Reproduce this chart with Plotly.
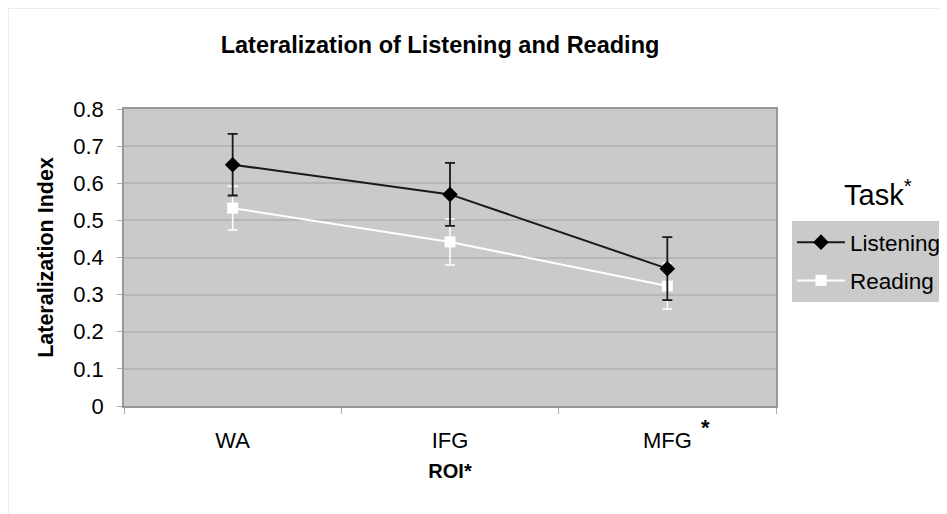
import plotly.graph_objects as go

categories = ["WA", "IFG", "MFG"]
listening = [0.65, 0.57, 0.37]
listening_err = [0.083, 0.085, 0.085]
reading = [0.533, 0.442, 0.323]
reading_err = [0.059, 0.062, 0.062]
y_ticks = [0, 0.1, 0.2, 0.3, 0.4, 0.5, 0.6, 0.7, 0.8]
y_ticklabels = ["0", "0.1", "0.2", "0.3", "0.4", "0.5", "0.6", "0.7", "0.8"]

FONT = "Liberation Sans, Arial, sans-serif"

# figure is drawn at an 8px page offset; plot area in figure pixels
W, H = 939, 506
L, T, PW, PH = 116, 101, 652, 297


def px(x):
    return (x - 8 - L) / PW


def py(y):
    return (T + PH - (y - 8)) / PH


fig = go.Figure()
fig.add_trace(go.Scatter(
    x=categories, y=reading, name="Reading", mode="lines+markers",
    legendgroup="r", legendrank=2,
    line=dict(color="white", width=2),
    marker=dict(symbol="square", size=11, color="white"),
    error_y=dict(type="data", array=reading_err, color="white", thickness=1.5, width=5),
))
fig.add_trace(go.Scatter(
    x=categories, y=listening, name="Listening", mode="lines+markers",
    legendgroup="l", legendrank=1,
    line=dict(color="#1a1a1a", width=2),
    marker=dict(symbol="diamond", size=12, color="black"),
    error_y=dict(type="data", array=listening_err, color="#1a1a1a", thickness=1.8, width=5),
))

fig.update_layout(
    width=W, height=H,
    margin=dict(l=L, r=W - L - PW, t=T, b=H - T - PH, autoexpand=False),
    paper_bgcolor="white",
    plot_bgcolor="#cacaca",
    font=dict(family=FONT, color="black"),
    title=dict(text="<b>Lateralization of Listening and Reading</b>",
               x=(440 - 8) / W, xanchor="center", y=1 - (45 - 8) / H, yanchor="middle",
               font=dict(size=23.5, family=FONT)),
    showlegend=True,
    legend=dict(x=px(792), xanchor="left", y=py(221), yanchor="top",
                bgcolor="#cacaca", traceorder="grouped",
                font=dict(size=22.5, family=FONT), itemwidth=48,
                tracegroupgap=6),
    xaxis=dict(
        type="category", tickson="boundaries", ticks="outside", ticklen=6,
        tickcolor="#aaaaaa", showgrid=False, range=[-0.5, 2.5],
        tickfont=dict(size=22, family=FONT), ticklabelstandoff=14,
        showline=True, linecolor="#999999", linewidth=1.5, mirror=True,
        title=dict(text="<b>ROI*</b>", font=dict(size=20, family=FONT), standoff=12),
    ),
    yaxis=dict(
        range=[0, 0.8], tickvals=y_ticks, ticktext=y_ticklabels,
        ticks="outside", ticklen=5, tickcolor="#aaaaaa",
        showgrid=True, gridcolor="#b6b6b6", gridwidth=1.5,
        tickfont=dict(size=22, family=FONT), ticklabelstandoff=9,
        showline=True, linecolor="#999999", linewidth=1.5, mirror=True,
        zeroline=False,
        title=dict(text="<b>Lateralization Index</b>", font=dict(size=21.5, family=FONT), standoff=14),
    ),
    annotations=[
        dict(text="Task<sup>*</sup>", x=px(842), y=py(193), xref="paper", yref="paper",
             xanchor="left", yanchor="middle",
             showarrow=False, font=dict(size=29, family=FONT)),
        dict(text="<b>*</b>", x=px(705), y=py(428), xref="paper", yref="paper",
             xanchor="center", yanchor="middle",
             showarrow=False, font=dict(size=22, family=FONT)),
    ],
    shapes=[
        dict(type="rect", xref="paper", yref="paper",
             x0=-L / PW, x1=(W - L) / PW + 0.01, y0=-(H - T - PH) / PH - 0.01, y1=1 + T / PH,
             line=dict(color="#e6e6e6", width=1.5), layer="below"),
    ],
)

fig.write_html("out.html")
